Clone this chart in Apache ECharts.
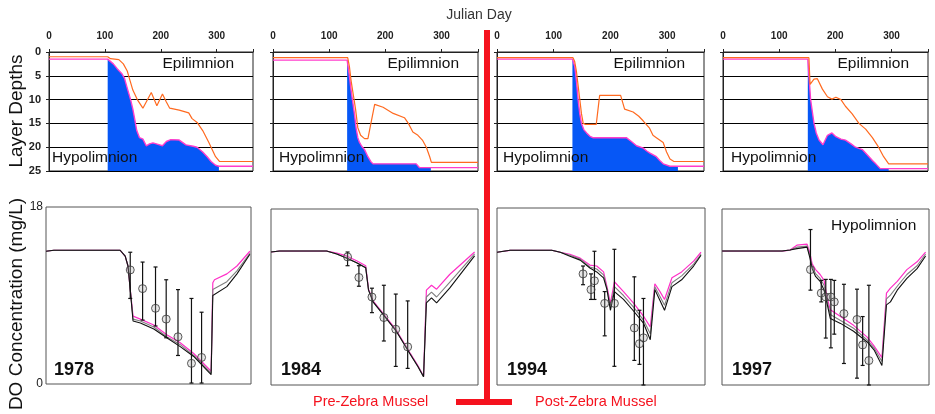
<!DOCTYPE html>
<html>
<head>
<meta charset="utf-8">
<script src="https://cdn.jsdelivr.net/npm/echarts@6/dist/echarts.min.js"></script>
<style>html,body{margin:0;padding:0;background:#fff;}#c{width:935px;height:414px;}</style>
</head>
<body>
<div id="c"></div>
<script>
// ---------- DATA ----------
const years = ['1978', '1984', '1994', '1997'];

// Layer depths (m): [julian day, depth]
const epi1978 = [[0,1],[105,1],[110,1.4],[125,1.6],[133,2.5],[140,4],[145,6],[150,8],[158,10],[168,11.8],[183,8.5],[193,11.3],[203,8.8],[210,10.5],[216,11.8],[233,12.2],[250,12.8],[256,14],[265,14.8],[275,16.5],[286,19],[298,22],[305,23],[365,23]];
const hyp1978 = [[0,1.5],[105,1.5],[115,2.5],[122,3.5],[130,4.5],[135,5.5],[141,8],[146,10],[150,12],[154,14.5],[157,16.5],[162,18],[168,18.3],[174,19.7],[180,19.3],[186,19.1],[195,19.4],[203,19.7],[210,18.8],[218,18.4],[233,18.5],[245,19.5],[258,19.8],[265,20],[275,21],[283,22],[290,23],[298,23.8],[304,24],[365,24]];
const fill1978 = [105, 304];

const epi1984 = [[0,1.2],[133,1.2],[136,3],[139,6],[143,9],[147,12],[151,15.9],[156,17.5],[163,18.2],[169,18.2],[181,11],[196,11.6],[214,12.9],[234,13.8],[241,15],[249,16.8],[258,17.5],[266,18.5],[273,20],[279,22],[282,23.2],[365,23.2]];
const hyp1984 = [[0,1.7],[132,1.7],[136,5],[139,8],[142,10.5],[145,13],[148,16],[151,18],[154,19],[158,19.8],[163,20.5],[169,22],[174,23],[178,23.5],[255,23.5],[261,24.3],[281,24.3],[365,24.3]];
const fill1984 = [132, 281];

const epi1994 = [[0,1.2],[134,1.2],[137,2],[140,4],[143,7],[146,10],[149,13],[152,15],[156,15.2],[175,15.2],[181,9.1],[218,9.1],[225,12],[240,12.6],[250,13.5],[258,14.5],[269,16],[275,17.5],[281,18],[293,19],[299,21],[305,22.5],[312,23],[365,23]];
const hyp1994 = [[0,1.5],[133,1.5],[137,3],[140,6],[143,10],[146,13],[149,15],[153,16.3],[158,17],[164,17.7],[169,18],[228,18],[237,18.8],[246,19.7],[258,20.2],[264,20.8],[269,21.2],[281,22],[287,22.8],[293,23.5],[305,24],[319,24],[365,24]];
const fill1994 = [133, 319];

const epi1997 = [[0,1.2],[153,1.2],[155,6.8],[162,5.7],[168,5.6],[177,7.8],[186,9.4],[194,9.9],[201,9.5],[210,10],[218,11.4],[230,13],[242,15],[254,16.2],[266,18],[277,20],[286,22],[295,23.5],[365,23.5]];
const hyp1997 = [[0,1.5],[151,1.5],[153,5],[156,10],[159,12.5],[162,15],[166,17],[171,18.5],[178,19.5],[182,18.5],[186,17.5],[194,17],[201,17.8],[210,18.3],[218,18.5],[228,19.3],[236,20],[248,20.5],[260,22],[266,22.8],[272,23.5],[280,24.5],[295,24.5],[365,24.5]];
const fill1997 = [151, 295];

// Modelled DO (mg/L)
const doDays1978 = [0,14,132,141,146,150,155,168,192,215,239,263,294,297,300,322,340,363];
const doMag1978  = [13.5,13.6,13.6,13,12,9.6,6.9,6.6,6.0,5.0,4.2,3.1,1.3,10.3,10.6,11.2,12,13.5];
const doGray1978 = [13.5,13.6,13.6,13,12,9.6,6.6,6.4,5.8,4.8,4.0,2.9,1.1,9.6,9.8,10.4,11.5,13.3];
const doBlk1978  = [13.5,13.6,13.6,13,12,9.6,6.4,6.2,5.6,4.7,3.8,2.8,0.95,9.0,9.2,9.9,11.2,13.2];

const doDays1984 = [0,15,98,116,133,151,167,172,180,198,221,245,259,269,274,283,292,315,359];
const doMag1984  = [13.6,13.7,13.7,13.5,13.2,12.7,12.2,9.8,8.6,7.3,5.6,3.3,2.0,0.9,9.7,10.2,9.8,11.3,13.6];
const doGray1984 = [13.6,13.7,13.7,13.4,13.0,12.5,12.0,9.7,8.5,7.2,5.5,3.2,1.9,0.85,9.0,9.5,9.0,10.5,13.4];
const doBlk1984  = [13.6,13.7,13.7,13.4,13.0,12.5,12.0,9.7,8.5,7.2,5.5,3.2,1.9,0.85,8.4,8.9,8.4,9.9,13.2];

const doDays1994 = [0,23,96,111,128,146,163,175,187,193,199,206,222,240,257,269,277,286,294,307,324,345,358];
const doMag1994  = [13.5,13.7,13.7,13.5,13.3,12.9,12.2,12.1,11.5,10.0,8.3,10.5,9.5,8.3,7.0,5.9,10.3,9.5,8.7,10.9,11.5,12.6,13.5];
const doGray1994 = [13.5,13.7,13.7,13.5,13.2,12.8,12.0,11.8,11.2,9.8,7.9,10.0,9.1,7.9,6.6,5.2,10.0,9.0,8.1,10.4,11.1,12.3,13.3];
const doBlk1994  = [13.5,13.7,13.7,13.5,13.1,12.7,11.9,11.5,10.9,9.7,7.6,9.5,8.7,7.5,6.3,4.6,9.7,8.6,7.6,10.0,10.7,12.1,13.2];

const doDays1997 = [0,106,120,132,150,155,159,165,173,180,185,191,209,232,256,268,282,290,297,309,326,344,359];
const doMag1997  = [13.7,13.7,13.8,14.3,14.4,13.5,12.4,11.8,11.3,10.7,9.0,7.7,7.0,6.1,4.9,4.0,2.8,9.4,9.9,10.6,11.8,12.6,13.6];
const doGray1997 = [13.7,13.7,13.8,14.1,14.2,13.2,12.1,11.4,10.9,10.2,8.7,7.2,6.6,5.8,4.6,3.8,2.4,8.8,9.2,10.1,11.3,12.2,13.4];
const doBlk1997  = [13.7,13.7,13.8,13.95,14.1,13.0,11.9,11.1,10.6,9.7,8.4,6.8,6.3,5.5,4.4,3.6,2.0,8.2,8.5,9.7,10.9,11.9,13.2];

// Observed DO with ranges
const obsDay1978  = [150,172,195,214,235,259,277];
const obsMean1978 = [11.6,9.7,7.7,6.6,4.8,2.1,2.7];
const obsLow1978  = [8.7,6.5,5.9,4.7,2.9,0.1,0.1];
const obsHigh1978 = [13.4,12.4,11.9,10.6,9.6,8.7,7.3];

const obsDay1984  = [135,155,178,199,220,241];
const obsMean1984 = [13.1,11,9,6.9,5.7,3.9];
const obsLow1984  = [12.2,10.1,7.4,4.5,1.9,1.7];
const obsHigh1984 = [13.6,12.2,9.9,10.2,9.3,8.6];

const obsDay1994  = [151,165,171,189,206,241,250,257];
const obsMean1994 = [11.3,9.7,10.6,8.3,8.3,5.8,4.2,4.8];
const obsLow1994  = [10.2,8.7,8.7,5,1.9,2.5,2.1,0];
const obsHigh1994 = [12.1,11.3,13.6,9.5,13.8,11,7.6,8.8];

const obsDay1997  = [156,175,183,192,198,215,238,248,259];
const obsMean1997 = [11.8,9.4,9,9,8.5,7.3,6.7,4.1,2.5];
const obsLow1997  = [9.7,8.5,4.8,3.8,5.2,2.2,0.7,2,0];
const obsHigh1997 = [15.9,10.7,10.8,10.8,10.7,10.3,9.8,7,10.2];

// ---------- BUILD ----------
const depthSets = [
  [epi1978, hyp1978, fill1978], [epi1984, hyp1984, fill1984],
  [epi1994, hyp1994, fill1994], [epi1997, hyp1997, fill1997]
];
const doSets = [
  [doDays1978, doMag1978, doGray1978, doBlk1978],
  [doDays1984, doMag1984, doGray1984, doBlk1984],
  [doDays1994, doMag1994, doGray1994, doBlk1994],
  [doDays1997, doMag1997, doGray1997, doBlk1997]
];
const obsSets = [
  [obsDay1978, obsMean1978, obsLow1978, obsHigh1978],
  [obsDay1984, obsMean1984, obsLow1984, obsHigh1984],
  [obsDay1994, obsMean1994, obsLow1994, obsHigh1994],
  [obsDay1997, obsMean1997, obsLow1997, obsHigh1997]
];

const FONT = '"Liberation Sans", Arial, Helvetica, sans-serif';
const topGrid = [{l:49,w:204},{l:273,w:205},{l:497,w:207},{l:723,w:205}];
const botGrid = [{l:46,t:207,w:205,h:177},{l:271,t:209,w:207,h:176},{l:497,t:208,w:208,h:177},{l:722,t:209,w:207,h:176}];

const grids = [], xAxes = [], yAxes = [], series = [];
topGrid.forEach((g, i) => {
  grids.push({left:g.l, top:52, width:g.w, height:119, show:true, borderColor:'#222', borderWidth:1, backgroundColor:'#fff'});
  xAxes.push({gridIndex:i, type:'value', position:'top', min:0, max:365, interval:100,
    axisLine:{show:true, lineStyle:{color:'#222', width:1}},
    axisTick:{show:true, length:3, lineStyle:{color:'#222'}},
    axisLabel:{fontSize:10, color:'#222', margin:11, fontFamily:FONT, fontWeight:'bold',
      formatter: v => (v % 100 === 0 ? String(v) : '')},
    splitLine:{show:false}});
  yAxes.push({gridIndex:i, type:'value', inverse:true, min:0, max:25, interval:5,
    axisLine:{show:true, lineStyle:{color:'#222'}},
    axisTick:{show:true, length:3, lineStyle:{color:'#222'}},
    axisLabel:{show:i === 0, fontSize:11, color:'#222', margin:8, fontFamily:FONT, fontWeight:'bold'},
    splitLine:{show:true, lineStyle:{color:'#000', width:1}}});
});
botGrid.forEach((g, i) => {
  grids.push({left:g.l, top:g.t, width:g.w, height:g.h, show:true, borderColor:'#555', borderWidth:1, backgroundColor:'#fff'});
  xAxes.push({gridIndex:4+i, type:'value', min:0, max:365, show:false});
  yAxes.push({gridIndex:4+i, type:'value', min:0, max:18, interval:18,
    axisLine:{show:false}, axisTick:{show:false}, splitLine:{show:false},
    axisLabel:{show:i === 0, fontSize:12, color:'#222', margin:3, fontFamily:FONT}});
});

depthSets.forEach(([epi, hyp, fill], i) => {
  const filled = hyp.filter(p => p[0] >= fill[0] && p[0] <= fill[1]);
  series.push({type:'line', xAxisIndex:i, yAxisIndex:i, data:filled, symbol:'none', silent:true, z:2,
    lineStyle:{width:0, opacity:0}, areaStyle:{color:'#0657f6', opacity:1, origin:'end'}});
  series.push({type:'line', xAxisIndex:i, yAxisIndex:i, data:hyp, symbol:'none', silent:true, z:3,
    lineStyle:{color:'#ff3dcc', width:1.4}});
  series.push({type:'line', xAxisIndex:i, yAxisIndex:i, data:epi, symbol:'none', silent:true, z:4,
    lineStyle:{color:'#ff6a20', width:1.2}});
});

doSets.forEach(([days, mag, gray, blk], i) => {
  const k = 4 + i;
  const toPairs = arr => days.map((d, j) => [d, arr[j]]);
  series.push({type:'line', xAxisIndex:k, yAxisIndex:k, data:toPairs(mag), symbol:'none', silent:true, z:3,
    lineStyle:{color:'#ff30c8', width:1.2}});
  series.push({type:'line', xAxisIndex:k, yAxisIndex:k, data:toPairs(gray), symbol:'none', silent:true, z:4,
    lineStyle:{color:'#808080', width:1.1}});
  series.push({type:'line', xAxisIndex:k, yAxisIndex:k, data:toPairs(blk), symbol:'none', silent:true, z:5,
    lineStyle:{color:'#111', width:1.1}});
});

obsSets.forEach(([d, mean, lo, hi], i) => {
  const k = 4 + i;
  series.push({type:'custom', xAxisIndex:k, yAxisIndex:k, silent:true, z:6,
    data: d.map((x, j) => [x, lo[j], hi[j]]),
    encode:{x:0, y:[1,2]},
    renderItem: (params, api) => {
      const a = api.coord([api.value(0), api.value(1)]);
      const b = api.coord([api.value(0), api.value(2)]);
      const st = {stroke:'#111', lineWidth:1.2};
      return {type:'group', children:[
        {type:'line', shape:{x1:a[0], y1:a[1], x2:b[0], y2:b[1]}, style:st},
        {type:'line', shape:{x1:a[0]-2, y1:a[1], x2:a[0]+2, y2:a[1]}, style:st},
        {type:'line', shape:{x1:b[0]-2, y1:b[1], x2:b[0]+2, y2:b[1]}, style:st}
      ]};
    }});
  series.push({type:'scatter', xAxisIndex:k, yAxisIndex:k, silent:true, z:7,
    data: d.map((x, j) => [x, mean[j]]), symbol:'circle', symbolSize:8,
    itemStyle:{color:'rgba(170,170,170,0.35)', borderColor:'#333', borderWidth:1}});
});

// ---------- TEXT / DECORATION ----------
const txt = (text, x, y, opts) => Object.assign({type:'text', x, y, silent:true, z:100,
  style:Object.assign({text, fill:'#111', font:'15.5px ' + FONT, align:'left', verticalAlign:'middle'}, (opts && opts.style) || {})},
  opts && opts.rotation !== undefined ? {rotation: opts.rotation} : {});

const graphics = [
  {type:'rect', shape:{x:484, y:30, width:6, height:375}, style:{fill:'#f5121e'}, silent:true, z:90},
  {type:'rect', shape:{x:456, y:399, width:56, height:6}, style:{fill:'#f5121e'}, silent:true, z:90},
  txt('Julian Day', 479, 15, {style:{font:'14px ' + FONT, align:'center', fill:'#333'}}),
  txt('Layer Depths', 17, 111, {rotation:Math.PI/2, style:{font:'19px ' + FONT, align:'center'}}),
  txt('DO Concentration (mg/L)', 17, 304, {rotation:Math.PI/2, style:{font:'19px ' + FONT, align:'center'}}),
  txt('Pre-Zebra Mussel', 313, 402, {style:{font:'14.5px ' + FONT, fill:'#f5121e'}}),
  txt('Post-Zebra Mussel', 535, 402, {style:{font:'14.5px ' + FONT, fill:'#f5121e'}}),
  txt('Hypolimnion', 831, 226)
];
const hypX = [52, 279, 503, 731];
const yearX = [54, 281, 507, 732];
topGrid.forEach((g, i) => {
  graphics.push(txt('Epilimnion', g.l + g.w - 19, 64, {style:{align:'right'}}));
  graphics.push(txt('Hypolimnion', hypX[i], 158));
  graphics.push(txt(years[i], yearX[i], 370, {style:{font:'bold 18px ' + FONT}}));
});

const chart = echarts.init(document.getElementById('c'), null, {renderer:'canvas'});
chart.setOption({
  animation:false,
  backgroundColor:'#fff',
  textStyle:{fontFamily:FONT},
  grid:grids, xAxis:xAxes, yAxis:yAxes, series:series,
  graphic:graphics
});
</script>
</body>
</html>
